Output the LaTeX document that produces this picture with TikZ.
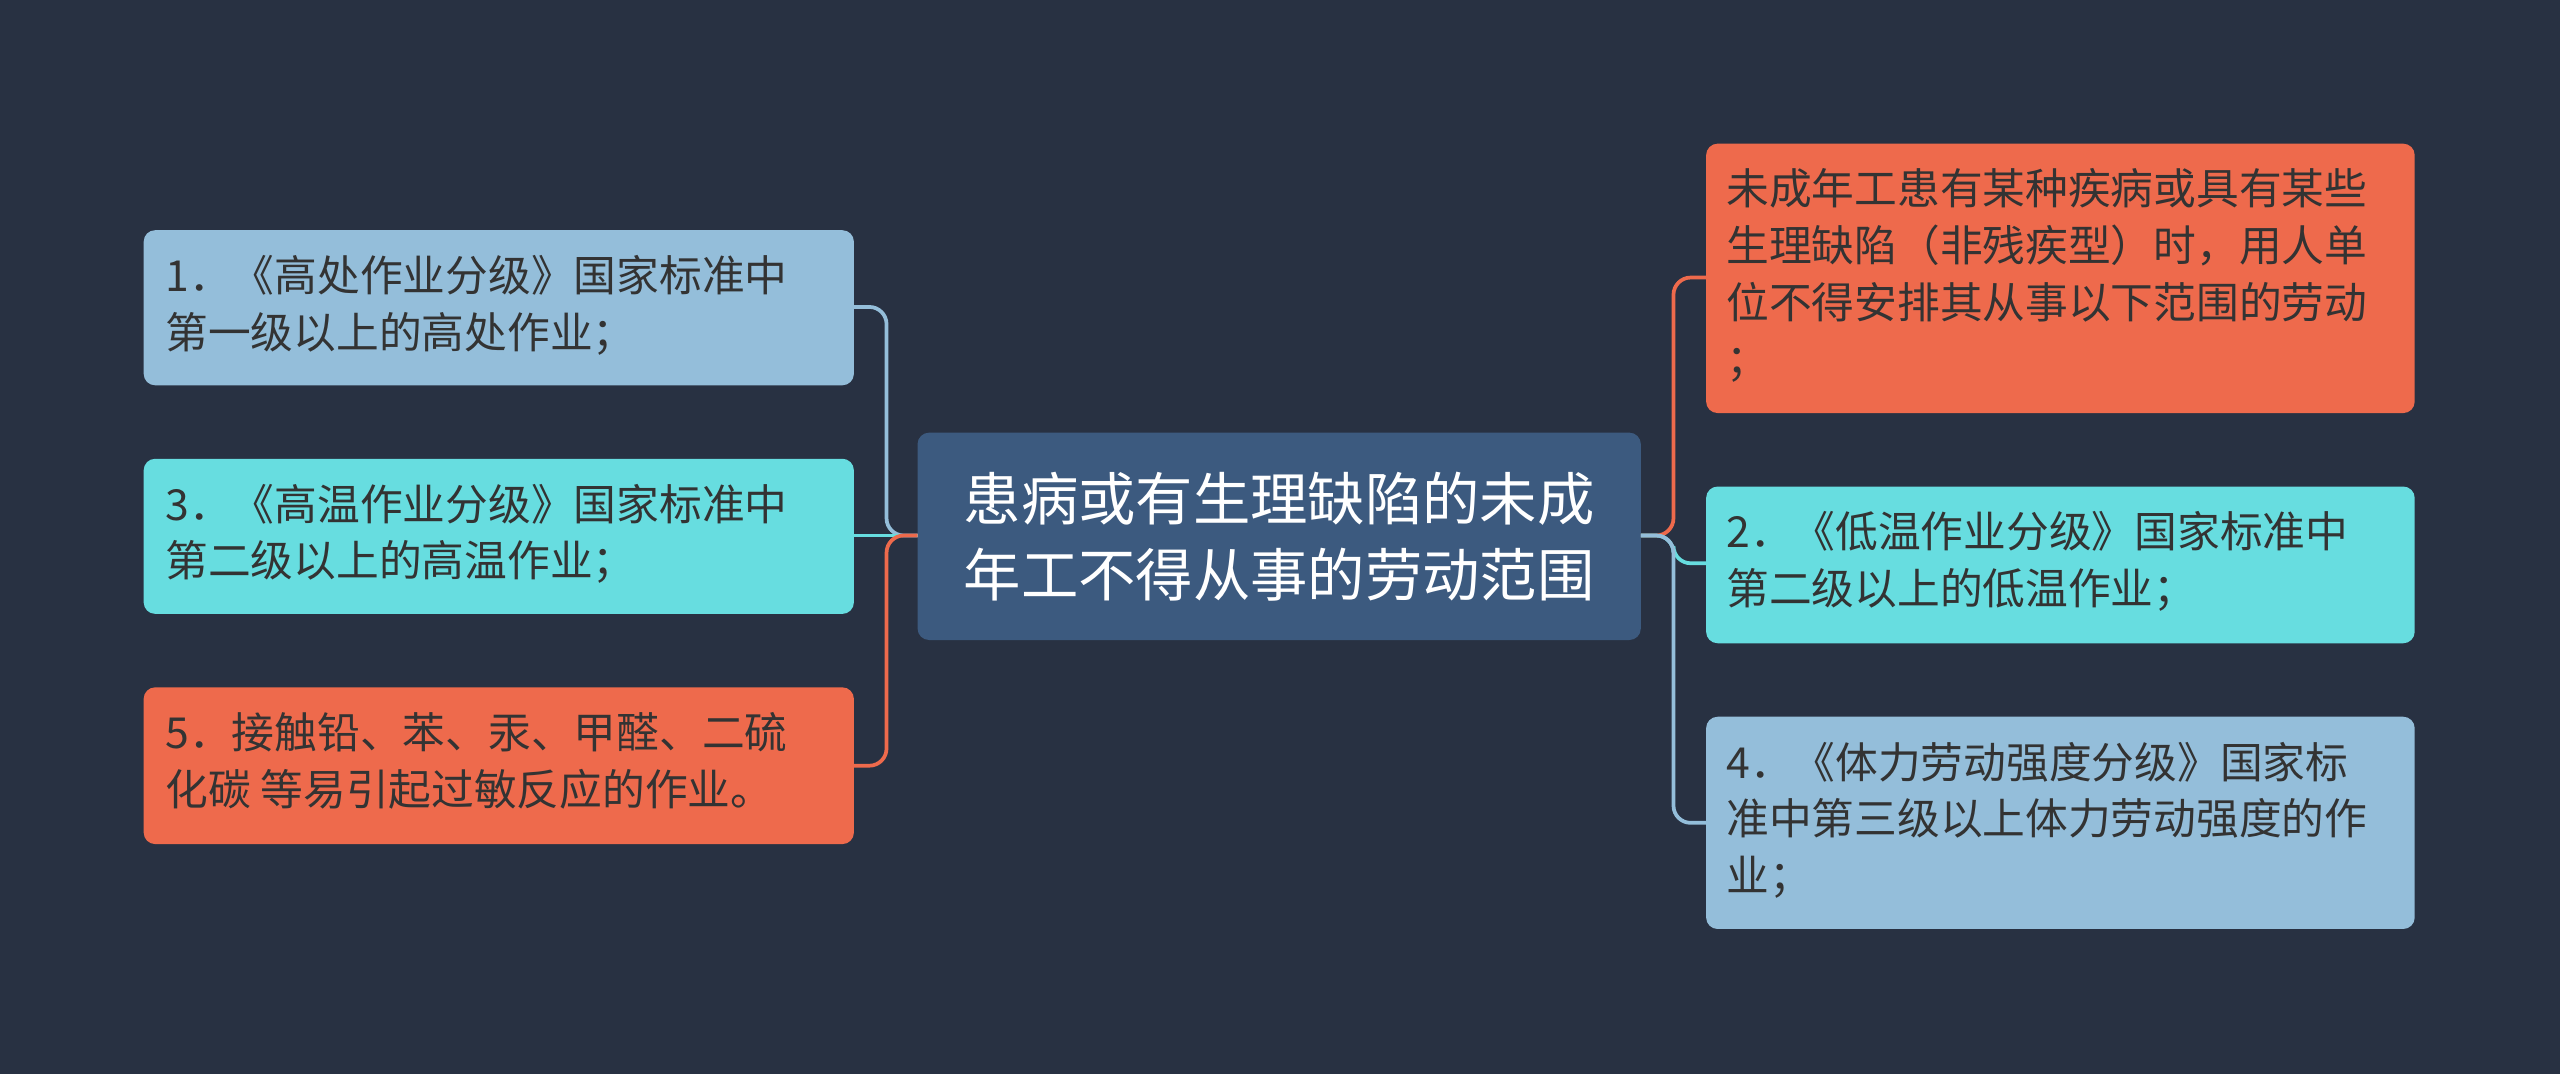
\documentclass[tikz,border=0pt]{standalone}
\usepackage{fontspec}
\setmainfont{Noto Sans CJK SC}
\begin{document}
\begin{tikzpicture}[x=0.02cm,y=-0.02cm]
\definecolor{bg}{HTML}{283142}
\definecolor{cen}{HTML}{3C5A7F}
\definecolor{lb}{HTML}{94BEDA}
\definecolor{cy}{HTML}{67DDE0}
\definecolor{og}{HTML}{EE6A4C}
\definecolor{tx}{HTML}{333333}
\fill[bg] (0,0) rectangle (1568,658);
\useasboundingbox (0,0) rectangle (1568,658);
\tikzset{ltext/.style={anchor=north west,align=left,text=tx,font=\fontsize{14.9}{19.8}\selectfont,inner sep=0pt},
 conn/.style={line width=1.3pt,rounded corners=6pt}}
% center
\fill[cen,rounded corners=4pt] (562,265) rectangle (1005,392);
\node[text=white,font=\fontsize{20}{26.6}\selectfont,align=center] (C) at (783.5,328.5) {患病或有生理缺陷的未成\\年工不得从事的劳动范围};
\coordinate (CW) at (562,328);
\coordinate (CE) at (1005,328);
% left
\fill[lb,rounded corners=4pt] (88,141) rectangle (523,236);
\fill[cy,rounded corners=4pt] (88,281) rectangle (523,376);
\fill[og,rounded corners=4pt] (88,421) rectangle (523,517);
\coordinate (L1) at (523,188);
\coordinate (L2) at (523,328);
\coordinate (L3) at (523,469);
\node[ltext] (t1) at (101,156) {1．《高处作业分级》国家标准中\\第一级以上的高处作业；};
\node[ltext] (t2) at (101,296) {3．《高温作业分级》国家标准中\\第二级以上的高温作业；};
\node[ltext] (t3) at (101,436) {5．接触铅、苯、汞、甲醛、二硫\\化碳 等易引起过敏反应的作业。};
% right
\fill[og,rounded corners=4pt] (1045,88) rectangle (1479,253);
\fill[cy,rounded corners=4pt] (1045,298) rectangle (1479,394);
\fill[lb,rounded corners=4pt] (1045,439) rectangle (1479,569);
\coordinate (R1) at (1045,170);
\coordinate (R2) at (1045,345);
\coordinate (R3) at (1045,504);
\node[ltext] (t4) at (1057,103) {未成年工患有某种疾病或具有某些\\生理缺陷（非残疾型）时，用人单\\位不得安排其从事以下范围的劳动\\；};
\node[ltext] (t5) at (1057,313) {2．《低温作业分级》国家标准中\\第二级以上的低温作业；};
\node[ltext] (t6) at (1057,454) {4．《体力劳动强度分级》国家标\\准中第三级以上体力劳动强度的作\\业；};
% connectors
\draw[conn,lb] (L1) -| (543,328) -- (CW);
\draw[conn,cy] (L2) -- (CW);
\draw[conn,og] (L3) -| (543,328) -- (CW);
\draw[conn,og] (CE) -- (1025,328) |- (R1);
\draw[conn,cy] (CE) -- (1025,328) |- (R2);
\draw[conn,lb] (CE) -- (1025,328) |- (R3);
\end{tikzpicture}
\end{document}
